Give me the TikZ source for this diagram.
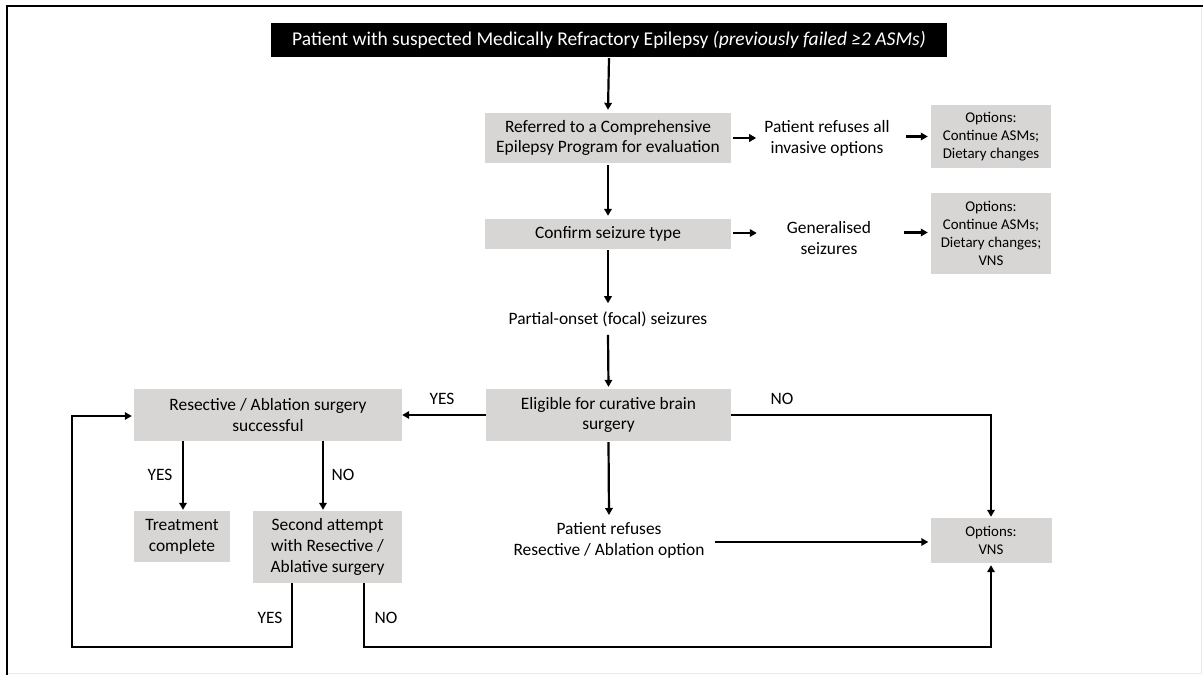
\documentclass[tikz,border=0pt]{standalone}
\usepackage{fontspec}
\setmainfont{Carlito}
\usetikzlibrary{arrows.meta}
\definecolor{boxgray}{RGB}{216,213,213}
\begin{document}
\begin{tikzpicture}[x=1pt,y=-1pt,
  mainfont/.style={font=\fontsize{17.4}{20.8}\selectfont},
  optfont/.style={font=\fontsize{14.9}{17.8}\selectfont},
  gbox/.style={fill=boxgray,inner sep=0pt,align=center,mainfont},
  obox/.style={fill=boxgray,inner sep=0pt,align=center,optfont,minimum width=120pt},
  plain/.style={inner sep=0pt,align=center,mainfont},
  lbl/.style={inner sep=0pt,mainfont},
  arr/.style={draw=black,line width=2.2pt,-{Triangle[length=7pt,width=7.5pt]}},
  ]
\useasboundingbox (0,0) rectangle (1203,675);
% frame
\draw[line width=2pt] (7,675) -- (7,6) -- (1203,6);
\draw[black!8,line width=1pt] (1201.5,8) -- (1201.5,673.5) -- (8,673.5);

% nodes
\node[fill=black,text=white,inner sep=0pt,minimum width=676pt,minimum height=34pt,font=\fontsize{19.5}{23}\selectfont] (title) at (609,40)
  {Patient with suspected Medically Refractory Epilepsy \textit{(previously failed ≥2 ASMs)}};
\node[gbox,minimum width=246pt,minimum height=50pt] (ref) at (608,138) {Referred to a Comprehensive\\Epilepsy Program for evaluation};
\node[plain] (pref) at (827,138) {Patient refuses all\\invasive options};
\node[obox,minimum height=63pt] (opt1) at (991,136.5) {Options:\\Continue ASMs;\\Dietary changes};
\node[gbox,minimum width=246pt,minimum height=30pt] (conf) at (608,234) {Confirm seizure type};
\node[plain] (gen) at (829,238) {Generalised\\seizures};
\node[obox,minimum height=81pt] (opt2) at (991,233.5) {Options:\\Continue ASMs;\\Dietary changes;\\VNS};
\node[plain] (part) at (608,319) {Partial-onset (focal) seizures};
\node[gbox,minimum width=245pt,minimum height=52pt] (elig) at (608.5,415) {Eligible for curative brain\\surgery};
\node[gbox,minimum width=268pt,minimum height=52pt] (res) at (268,415) {Resective / Ablation surgery\\successful};
\node[gbox,minimum width=96pt,minimum height=51pt] (treat) at (182,536.5) {Treatment\\complete};
\node[gbox,minimum width=149pt,minimum height=72pt] (sec) at (327.5,547) {Second attempt\\with Resective /\\Ablative surgery};
\node[plain] (refu) at (609,540) {Patient refuses\\Resective / Ablation option};
\node[obox,minimum width=121pt,minimum height=45pt] (vns) at (991,540.5) {Options:\\VNS};

\coordinate (lb) at (72,647);
\coordinate (rb) at (991,647);
\coordinate (nr) at (991,415);

% connectors (yshift is in page units: positive = up)
\draw[arr] ([yshift=-1pt]title.south) -- ([yshift=3pt]ref.north);
\draw[arr] ([xshift=2pt]ref.east) -- ([xshift=-8pt]ref.east -| pref.west);
\draw[arr] ([xshift=16pt]pref.east |- opt1.west) -- ([xshift=-3pt]opt1.west);
\draw[arr] ([yshift=-2pt]ref.south) -- ([yshift=3pt]conf.north);
\draw[arr] ([xshift=2pt,yshift=1pt]conf.east) -- ([xshift=-30pt,yshift=1pt]conf.east -| gen.west);
\draw[arr] ([xshift=33pt,yshift=1pt]gen.east |- opt2.west) -- ([xshift=-3pt,yshift=1pt]opt2.west);
\draw[arr] ([yshift=-1pt]conf.south) -- ([yshift=8pt]part.north);
\draw[arr] ([yshift=-8pt]part.south) -- ([yshift=2pt]elig.north);
\draw[arr] (elig.west) -- (res.east);
\node[lbl] (yes1) at (442,399) {YES};
\draw[arr] (elig.east) -- (nr) -- ([yshift=1pt]vns.north);
\node[lbl] (no1) at (782,399) {NO};
\draw[arr] ([yshift=-1pt]elig.south) -- ([yshift=7pt]refu.north);
\draw[arr] ([xshift=10pt,yshift=-2pt]refu.east) -- ([xshift=-2pt,yshift=-1.5pt]vns.west);
\draw[arr] ([xshift=1pt]treat.north |- res.south) -- ([xshift=1pt,yshift=1pt]treat.north);
\node[lbl] (yes2) at (160,475) {YES};
\draw[arr] ([xshift=-4.5pt]sec.north |- res.south) -- ([xshift=-4.5pt,yshift=1pt]sec.north);
\node[lbl] (no2) at (343,475) {NO};
\draw[arr] ([xshift=-35.5pt]sec.south) |- (lb) |- ([xshift=-2pt,yshift=-1pt]res.west);
\node[lbl] (yes3) at (270,618) {YES};
\draw[arr] ([xshift=36.5pt]sec.south) |- (rb) -- ([yshift=-2pt]vns.south);
\node[lbl] (no3) at (386,618) {NO};
\end{tikzpicture}
\end{document}
